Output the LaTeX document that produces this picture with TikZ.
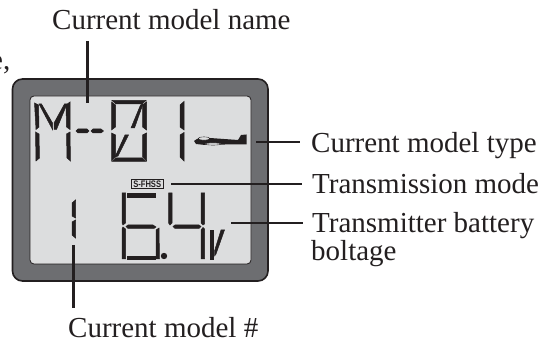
\documentclass[tikz,border=0pt]{standalone}
\usepackage{fontspec}
\usepackage{graphicx}
\setmainfont{Liberation Serif}
\newfontfamily\lcdfont{Liberation Sans}
\definecolor{casegray}{HTML}{6D6E71}
\definecolor{screengray}{HTML}{DCDDDE}
\definecolor{ink}{HTML}{231F20}
\begin{document}
\begin{tikzpicture}[x=1pt,y=-1pt,
  lbl/.style={inner sep=0pt,anchor=base west,font=\fontsize{29}{31}\selectfont,text=ink},
  leader/.style={draw=ink,line width=2.4pt},
  seg/.style={fill=ink,draw=ink,line width=0.5pt}]
\useasboundingbox (0,0) rectangle (550,342);
\fill[white] (0,0) rectangle (550,342);
% case
\filldraw[fill=casegray,draw=ink,line width=1.6pt,rounded corners=10pt] (12.5,79) rectangle (268,281);
\filldraw[fill=screengray,draw=ink,line width=0.8pt,rounded corners=4pt] (30,96) rectangle (251,264);
% M
\path[seg] (34.5,103)--(38.5,105)--(39,127)--(36,129.5)--cycle;
\path[seg] (35.5,132)--(39,134)--(39.5,158)--(36,161)--cycle;
\path[seg] (66,105)--(70,102)--(70,129.5)--(66.5,127)--cycle;
\path[seg] (66.5,134)--(70,132)--(70.5,161)--(67,158)--cycle;
\path[seg] (39,104)--(41.5,104)--(52.5,123)--(52.5,129.5)--cycle;
\path[seg] (64.5,104)--(67,104)--(56.5,129.5)--(54,129.5)--(54,123)--cycle;
% dashes
\path[seg] (76,131)--(78,129)--(87,129)--(89,131)--(87,133)--(78,133)--cycle;
\path[seg] (91,131)--(93,129)--(101,129)--(103.5,131)--(101,133)--(93,133)--cycle;
% 0
\path[seg] (112,100.5)--(146,100.5)--(142,104)--(116,104)--cycle;
\path[seg] (111.5,102)--(115.5,105)--(115.5,127)--(111.5,130)--cycle;
\path[seg] (111.5,133)--(115.5,135)--(115.5,157)--(111.5,161)--cycle;
\path[seg] (146.5,102)--(142.5,105)--(142.5,127)--(146.5,130)--cycle;
\path[seg] (146.5,133)--(142.5,135)--(142.5,157)--(146.5,161)--cycle;
\path[seg] (112,161.5)--(116,158)--(142,158)--(146,161.5)--cycle;
\path[seg] (140.5,105)--(143,104)--(134.5,128)--(131,128)--cycle;
\path[seg] (125,135)--(128.5,135)--(118,156)--(115,157)--cycle;
% 1
\path[seg] (184,101.5)--(184,130)--(180,127)--(180,105)--cycle;
\path[seg] (184,132.5)--(184,161)--(180,157)--(180,135)--cycle;
% plane
\fill[ink] (194,141)--(197,139)--(210,138)--(238,140)--(241,135)--(246.5,134.5)--(246.5,144.5)--(225,144.5)--(205,145)--(196,144)--cycle;
\filldraw[fill=screengray,draw=ink,line width=0.4pt] (204,138.5) ellipse (6 and 1.6);
\filldraw[fill=screengray,draw=ink,line width=0.4pt] (213,144) ellipse (8 and 1.1);
% S-FHSS
\filldraw[fill=screengray,draw=ink,line width=0.7pt] (131.5,179.5) rectangle (163,188.5);
\node[inner sep=0pt,text=ink,font=\lcdfont\bfseries\fontsize{9.5}{10}\selectfont] (mode) at (147.2,184) {\scalebox{0.8}[1]{S-FHSS}};
% small 1
\path[seg] (75.5,200)--(75.5,218)--(72,216)--(72,203)--cycle;
\path[seg] (75.5,220)--(75.5,238)--(72,235)--(72,222)--cycle;
% 6
\path[seg] (127,193)--(155,193)--(155,197)--(127,197)--cycle;
\path[seg] (122,193)--(125.5,193)--(125.5,223)--(123,225)--(122,223)--cycle;
\path[seg] (122,229)--(123,227)--(125.5,229)--(125.5,259)--(122,259)--cycle;
\path[seg] (126,226.5)--(128,225)--(153,225)--(156,227)--(154,228.5)--(128,228.5)--cycle;
\path[seg] (156,230)--(159,228)--(159.5,259)--(156,259)--cycle;
\path[seg] (127,256)--(155,256)--(155,259.5)--(127,259.5)--cycle;
\fill[ink] (164,256) circle (3.2);
% 4
\path[seg] (168.5,193)--(172,193)--(172,223)--(170,225)--(168.5,223)--cycle;
\path[seg] (173,226.5)--(175,225)--(199,225)--(201,226.5)--(199,228.5)--(175,228.5)--cycle;
\path[seg] (201,193)--(204.5,193)--(204.5,224)--(203,225)--(201,223)--cycle;
\path[seg] (201,230)--(203,227.5)--(204.5,229)--(204.5,259)--(201,259)--cycle;
% V
\path[seg] (210,230)--(213,230)--(213,259)--(210,259)--cycle;
\path[seg] (221,230)--(224.5,230)--(216,254)--(214.5,256)--(214.5,251)--cycle;
% anchors for connectors
\coordinate (nameA) at (87.5,41);
\coordinate (nameB) at (87.5,103);
\coordinate (typeA) at (256,142);
\coordinate (typeB) at (300,142);
\coordinate (modeA) at (171,184);
\coordinate (modeB) at (302,184);
\coordinate (batA) at (231,223);
\coordinate (batB) at (303,223);
\coordinate (numA) at (73.5,245);
\coordinate (numB) at (73.5,308);
\draw[leader] (nameA)--(nameB);
\draw[leader] (typeA)--(typeB);
\draw[leader] (modeA)--(modeB);
\draw[leader] (batA)--(batB);
\draw[leader] (numA)--(numB);
% labels
\node[lbl] (t1) at (52,30) {Current model name};
\node[lbl] (t2) at (311,153) {Current model type};
\node[lbl] (t3) at (312,194) {Transmission mode};
\node[lbl] (t4) at (312,233) {Transmitter battery};
\node[lbl] (t5) at (311,261) {boltage};
\node[lbl] (t6) at (68,338) {Current model \#};
\node[lbl,anchor=base east] (t7) at (10.5,70) {e,};
\end{tikzpicture}
\end{document}
